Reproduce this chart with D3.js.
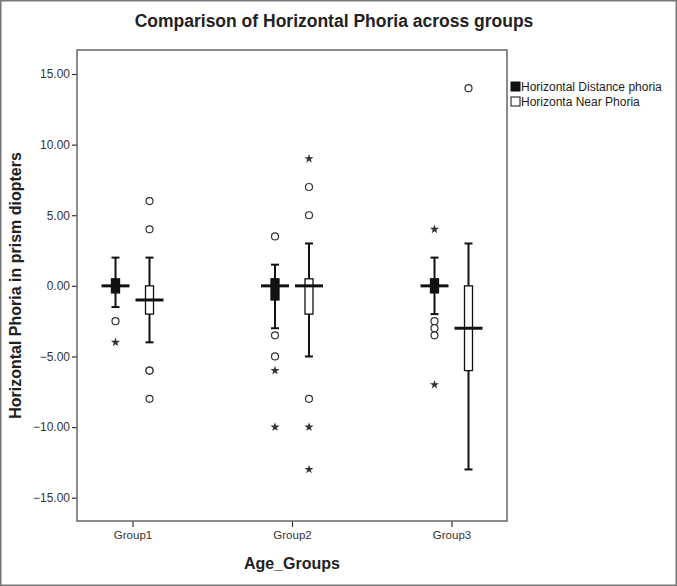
<!DOCTYPE html>
<html>
<head>
<meta charset="utf-8">
<script src="https://cdn.jsdelivr.net/npm/d3@7"></script>
<style>
  body { margin: 0; background: #fff; }
  svg { font-family: "Liberation Sans", Arial, sans-serif; }
</style>
</head>
<body>
<div id="chart"></div>
<script>
var groups = ["Group1", "Group2", "Group3"];
var seriesNames = ["Horizontal Distance phoria", "Horizonta Near Phoria"];
var yTicks = [15, 10, 5, 0, -5, -10, -15];

// Horizontal Distance phoria
var distLow = [-1.5, -3, -2];
var distQ1 = [-0.5, -1, -0.5];
var distMed = [0, 0, 0];
var distQ3 = [0.5, 0.5, 0.5];
var distHigh = [2, 1.5, 2];
var distOutliers = [[-2.5], [3.5, -3.5, -5], [-2.5, -3, -3.5]];
var distExtremes = [[-4], [-6, -10], [4, -7]];

// Horizonta Near Phoria
var nearLow = [-4, -5, -13];
var nearQ1 = [-2, -2, -6];
var nearMed = [-1, 0, -3];
var nearQ3 = [0, 0.5, 0];
var nearHigh = [2, 3, 3];
var nearOutliers = [[6, 4, -6, -6, -8], [7, 5, -8], [14]];
var nearExtremes = [[], [9, -10, -13], []];

var width = 677, height = 586;
var plotL = 77, plotR = 507, plotT = 50, plotB = 521;

var svg = d3.select("#chart").append("svg")
    .attr("width", width)
    .attr("height", height);

svg.append("rect")
    .attr("x", 0.75).attr("y", 0.75)
    .attr("width", width - 1.5).attr("height", height - 1.5)
    .attr("fill", "#fff").attr("stroke", "#777").attr("stroke-width", 1.5);

var x = d3.scalePoint().domain(groups).range([plotL, plotR]).padding(0.348);
var y = d3.scaleLinear().domain([-16.65, 16.7]).range([plotB, plotT]);
var offset = d3.scalePoint().domain(seriesNames).range([-17, 17]);

svg.append("text")
    .attr("x", 334).attr("y", 27)
    .attr("text-anchor", "middle")
    .style("font-size", "17.5px").style("font-weight", "bold").style("fill", "#222")
    .text("Comparison of Horizontal Phoria across groups");

// y axis
var yAxis = svg.append("g")
    .attr("transform", "translate(" + plotL + ",0)")
    .call(d3.axisLeft(y).tickValues(yTicks).tickFormat(d3.format(".2f")).tickSize(5).tickPadding(2));
yAxis.select(".domain").remove();
yAxis.selectAll("line").attr("stroke", "#333").attr("stroke-width", 1.2);
yAxis.selectAll("text").style("font-size", "12px").style("fill", "#333")
    .style("font-family", "Liberation Sans, Arial, sans-serif");

// x axis
var xAxis = svg.append("g")
    .attr("transform", "translate(0," + plotB + ")")
    .call(d3.axisBottom(x).tickSize(6).tickPadding(4));
xAxis.select(".domain").remove();
xAxis.selectAll("line").attr("stroke", "#333").attr("stroke-width", 1.2);
xAxis.selectAll("text").style("font-size", "11.5px").style("fill", "#333")
    .style("font-family", "Liberation Sans, Arial, sans-serif");

svg.append("rect")
    .attr("x", plotL).attr("y", plotT)
    .attr("width", plotR - plotL).attr("height", plotB - plotT)
    .attr("fill", "none").attr("stroke", "#666").attr("stroke-width", 1.5);

svg.append("text")
    .attr("transform", "translate(21," + ((plotT + plotB) / 2) + ") rotate(-90)")
    .attr("text-anchor", "middle")
    .style("font-size", "16px").style("font-weight", "bold").style("fill", "#222")
    .text("Horizontal Phoria in prism diopters");

svg.append("text")
    .attr("x", (plotL + plotR) / 2).attr("y", 569)
    .attr("text-anchor", "middle")
    .style("font-size", "16px").style("font-weight", "bold").style("fill", "#222")
    .text("Age_Groups");

function drawBoxes(name, low, q1, med, q3, high, outl, extr, fill) {
  var g = svg.append("g");
  var boxes = g.selectAll("g.box").data(groups).enter().append("g")
      .attr("transform", function(d) { return "translate(" + (x(d) + offset(name)) + ",0)"; });
  boxes.append("line")
      .attr("y1", function(d, i) { return y(low[i]); })
      .attr("y2", function(d, i) { return y(high[i]); })
      .attr("stroke", "#111").attr("stroke-width", 2);
  [low, high].forEach(function(arr) {
    boxes.append("line")
        .attr("x1", -4).attr("x2", 4)
        .attr("y1", function(d, i) { return y(arr[i]); })
        .attr("y2", function(d, i) { return y(arr[i]); })
        .attr("stroke", "#111").attr("stroke-width", 2);
  });
  boxes.append("rect")
      .attr("x", -4).attr("width", 8)
      .attr("y", function(d, i) { return y(q3[i]); })
      .attr("height", function(d, i) { return y(q1[i]) - y(q3[i]); })
      .attr("fill", fill).attr("stroke", "#111").attr("stroke-width", 1.3);
  boxes.append("line")
      .attr("x1", -14).attr("x2", 14)
      .attr("y1", function(d, i) { return y(med[i]); })
      .attr("y2", function(d, i) { return y(med[i]); })
      .attr("stroke", "#111").attr("stroke-width", 3);
  boxes.selectAll("circle").data(function(d, i) { return outl[i]; }).enter().append("circle")
      .attr("cy", function(v) { return y(v); })
      .attr("r", 3.5)
      .attr("fill", "#fff").attr("stroke", "#333").attr("stroke-width", 1.2);
  boxes.selectAll("path.ext").data(function(d, i) { return extr[i]; }).enter().append("path")
      .attr("class", "ext")
      .attr("transform", function(v) { return "translate(0," + y(v) + ")"; })
      .attr("d", d3.symbol(d3.symbolStar, 26))
      .attr("fill", "#333");
}

drawBoxes(seriesNames[0], distLow, distQ1, distMed, distQ3, distHigh, distOutliers, distExtremes, "#111");
drawBoxes(seriesNames[1], nearLow, nearQ1, nearMed, nearQ3, nearHigh, nearOutliers, nearExtremes, "#fff");

// legend
var legend = svg.append("g").attr("transform", "translate(511,82)");
var items = legend.selectAll("g").data(seriesNames).enter().append("g")
    .attr("transform", function(d, i) { return "translate(0," + (i * 15) + ")"; });
items.append("rect")
    .attr("width", 9).attr("height", 9)
    .attr("fill", function(d, i) { return i === 0 ? "#111" : "#fff"; })
    .attr("stroke", "#111").attr("stroke-width", 1);
items.append("text")
    .attr("x", 10).attr("y", 9)
    .style("font-size", "12px").style("fill", "#222")
    .text(function(d) { return d; });
</script>
</body>
</html>
